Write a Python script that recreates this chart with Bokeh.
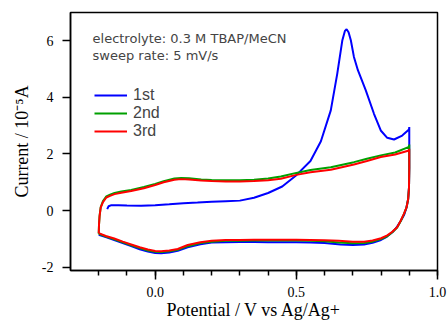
from bokeh.plotting import figure
from bokeh.models import (Range1d, SingleIntervalTicker, Label, Legend, LegendItem,
                          PrintfTickFormatter)
from bokeh.embed import file_html
from bokeh.resources import INLINE

# ---- data ----
# 1st cycle (starts at open-circuit potential, anodic then cathodic)
pot_1st = [-0.17, -0.165, -0.155, -0.13, -0.10, -0.05, 0.00, 0.05, 0.10, 0.15, 0.20, 0.25,
           0.30, 0.35, 0.40, 0.45, 0.50, 0.55, 0.587, 0.622, 0.645, 0.663, 0.672, 0.678,
           0.685, 0.693, 0.704, 0.718, 0.746, 0.775, 0.799, 0.822, 0.846, 0.875, 0.899, 0.90,
           0.90, 0.899, 0.896, 0.89, 0.882, 0.869, 0.855, 0.84, 0.82, 0.80, 0.77, 0.74,
           0.70, 0.657, 0.60, 0.55, 0.50, 0.45, 0.40, 0.35, 0.30, 0.25, 0.20, 0.16, 0.115,
           0.08, 0.05, 0.021, 0.00, -0.026, -0.055, -0.085, -0.115, -0.145, -0.175, -0.20]
cur_1st = [0.05, 0.15, 0.19, 0.19, 0.18, 0.17, 0.19, 0.22, 0.26, 0.28, 0.31, 0.33,
           0.35, 0.45, 0.62, 0.85, 1.25, 1.75, 2.45, 3.54, 4.84, 6.02, 6.35, 6.41,
           6.30, 6.02, 5.43, 4.96, 4.25, 3.42, 2.83, 2.57, 2.51, 2.65, 2.86, 2.95,
           1.50, 0.80, 0.40, 0.10, -0.15, -0.38, -0.60, -0.77, -0.93, -1.04, -1.14, -1.20,
           -1.22, -1.20, -1.15, -1.13, -1.12, -1.12, -1.12, -1.11, -1.11, -1.12, -1.13, -1.19, -1.30,
           -1.42, -1.48, -1.51, -1.50, -1.45, -1.37, -1.26, -1.15, -1.04, -0.94, -0.86]

# 2nd and 3rd cycles share the same potential sampling
pot_cyc = [-0.20, -0.199, -0.197, -0.193, -0.185, -0.173, -0.16, -0.144, -0.12, -0.085,
           -0.04, 0.00, 0.03, 0.068, 0.092, 0.12, 0.163, 0.20, 0.25, 0.30, 0.35, 0.40,
           0.445, 0.50, 0.55, 0.622, 0.704, 0.75, 0.799, 0.85, 0.899, 0.90,
           0.90, 0.899, 0.896, 0.89, 0.881, 0.87, 0.857, 0.84, 0.822, 0.80, 0.77, 0.74,
           0.70, 0.65, 0.60, 0.55, 0.50, 0.45, 0.40, 0.35, 0.30, 0.25, 0.20, 0.16, 0.115,
           0.08, 0.05, 0.021, 0.00, -0.026, -0.055, -0.085, -0.115, -0.145, -0.175, -0.20]
cur_2nd = [-0.82, -0.5, -0.2, 0.12, 0.33, 0.50, 0.56, 0.62, 0.67, 0.73,
           0.83, 0.94, 1.04, 1.13, 1.15, 1.14, 1.10, 1.08, 1.07, 1.07, 1.09, 1.13,
           1.20, 1.33, 1.43, 1.53, 1.71, 1.83, 1.95, 2.05, 2.25, 2.33,
           1.50, 0.80, 0.40, 0.10, -0.13, -0.37, -0.60, -0.77, -0.91, -1.01, -1.10, -1.15,
           -1.16, -1.13, -1.09, -1.07, -1.06, -1.06, -1.06, -1.06, -1.07, -1.07, -1.10, -1.15, -1.26,
           -1.39, -1.44, -1.47, -1.46, -1.41, -1.33, -1.23, -1.12, -1.02, -0.92, -0.82]
cur_3rd = [-0.80, -0.5, -0.2, 0.10, 0.30, 0.46, 0.52, 0.58, 0.63, 0.69,
           0.79, 0.90, 1.00, 1.09, 1.11, 1.10, 1.06, 1.04, 1.03, 1.03, 1.04, 1.07,
           1.12, 1.26, 1.35, 1.44, 1.63, 1.75, 1.89, 1.98, 2.12, 2.18,
           1.50, 0.80, 0.40, 0.10, -0.12, -0.35, -0.59, -0.75, -0.88, -0.98, -1.06, -1.10,
           -1.10, -1.07, -1.05, -1.04, -1.03, -1.03, -1.03, -1.03, -1.04, -1.04, -1.07, -1.12, -1.22,
           -1.36, -1.41, -1.44, -1.43, -1.38, -1.30, -1.20, -1.10, -0.99, -0.90, -0.80]

series_labels = ["1st", "2nd", "3rd"]
series_colors = ["#0000ff", "#00a000", "#ff0000"]
note_lines = ["electrolyte: 0.3 M TBAP/MeCN", "sweep rate: 5 mV/s"]

p = figure(width=448, height=322, output_backend="svg", toolbar_location=None,
           x_range=Range1d(-0.3, 1.0), y_range=Range1d(-2.12, 7.0),
           min_border_left=70, min_border_right=11, min_border_top=12, min_border_bottom=52,
           x_axis_label="Potential / V vs Ag/Ag+", y_axis_label="Current / 10\u207b\u2075A")
p.xgrid.visible = False
p.ygrid.visible = False
p.outline_line_color = "black"
p.outline_line_width = 1.5
p.outline_line_alpha = 1.0
p.background_fill_color = "white"
p.border_fill_color = "white"

p.xaxis.ticker = SingleIntervalTicker(interval=0.5, num_minor_ticks=5)
p.yaxis.ticker = SingleIntervalTicker(interval=2, num_minor_ticks=0)
p.xaxis.formatter = PrintfTickFormatter(format="%.1f")
p.yaxis.formatter = PrintfTickFormatter(format="%d")
for ax in (p.xaxis, p.yaxis):
    ax.axis_line_width = 1.5
    ax.major_tick_line_width = 1.5
    ax.minor_tick_line_width = 1.5
    ax.major_tick_in = 0
    ax.minor_tick_in = 0
    ax.major_label_text_font = "Liberation Serif"
    ax.major_label_text_font_size = "14px"
    ax.major_label_text_color = "black"
    ax.axis_label_text_font = "Liberation Serif"
    ax.axis_label_text_font_size = "18px"
    ax.axis_label_text_font_style = "normal"
    ax.axis_label_text_color = "black"
p.xaxis.major_tick_out = 9
p.xaxis.minor_tick_out = 5
p.xaxis.major_label_standoff = 7
p.xaxis.axis_label_standoff = 0
p.yaxis.major_tick_out = 8
p.yaxis.minor_tick_line_color = None
p.yaxis.major_label_standoff = 9
p.yaxis.axis_label_standoff = 7

r1 = p.line(pot_1st, cur_1st, color=series_colors[0], line_width=2)
r2 = p.line(pot_cyc, cur_2nd, color=series_colors[1], line_width=2)
r3 = p.line(pot_cyc, cur_3rd, color=series_colors[2], line_width=2)

legend = Legend(items=[LegendItem(label=series_labels[0], renderers=[r1]),
                       LegendItem(label=series_labels[1], renderers=[r2]),
                       LegendItem(label=series_labels[2], renderers=[r3])],
                location=(24, 130), padding=0, margin=0, spacing=0,
                glyph_width=33, glyph_height=18, label_height=18, label_standoff=6,
                label_text_font="Liberation Sans", label_text_font_size="16px",
                border_line_color=None, background_fill_alpha=0)
p.add_layout(legend)

p.add_layout(Label(x=-0.222, y=6.09, text=note_lines[0], text_font="DejaVu Sans",
                   text_font_size="13px", text_baseline="alphabetic"))
p.add_layout(Label(x=-0.222, y=5.49, text=note_lines[1], text_font="DejaVu Sans",
                   text_font_size="13px", text_baseline="alphabetic"))

open("out.html", "w").write(file_html(p, INLINE))
